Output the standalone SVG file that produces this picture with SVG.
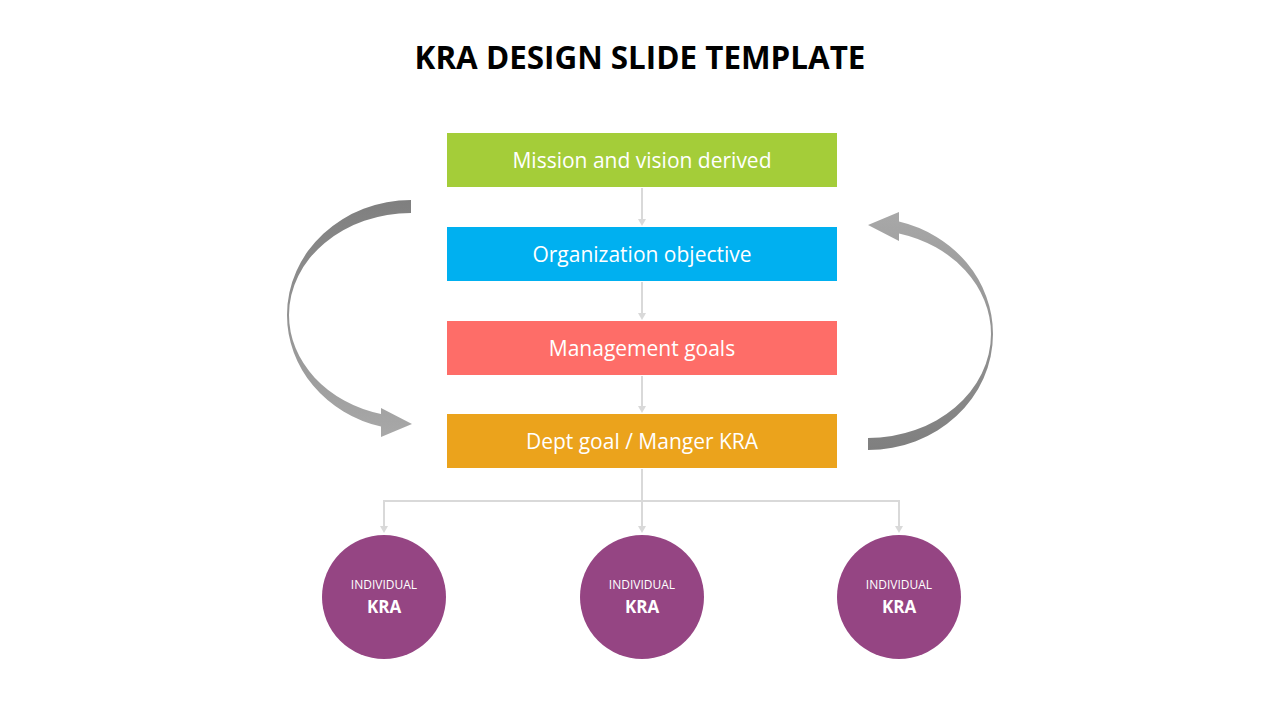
<svg xmlns="http://www.w3.org/2000/svg" width="1280" height="720" viewBox="0 0 1280 720">
<defs>
<linearGradient id="gl" x1="0" y1="0" x2="0" y2="1"><stop offset="0" stop-color="#7f7f7f"/><stop offset="1" stop-color="#a8a8a8"/></linearGradient>
<linearGradient id="gr" x1="0" y1="0" x2="0" y2="1"><stop offset="0" stop-color="#a8a8a8"/><stop offset="1" stop-color="#7f7f7f"/></linearGradient>
<style>
.box{stroke:none}
.bt{font-family:"Open Sans","Liberation Sans",sans-serif;font-size:21px;fill:#ffffff;text-anchor:middle}
.con{fill:none;stroke:#d9d9d9;stroke-width:2}
.ah{fill:#d9d9d9}
.c{fill:#954583}
.ct1{font-family:"Open Sans","Liberation Sans",sans-serif;font-size:12px;fill:#ffffff;text-anchor:middle}
.ct2{font-family:"Open Sans","Liberation Sans",sans-serif;font-size:17px;font-weight:bold;fill:#ffffff;text-anchor:middle}
</style>
</defs>
<rect width="1280" height="720" fill="#ffffff"/>
<text x="640" y="69" font-family="'Open Sans','Liberation Sans',sans-serif" font-size="31.4" font-weight="bold" fill="#000000" text-anchor="middle">KRA DESIGN SLIDE TEMPLATE</text>
<g id="connectors">
<line class="con" x1="642" y1="188" x2="642" y2="220"/>
<path class="ah" d="M638 219 L646 219 L642 226 Z"/>
<line class="con" x1="642" y1="282" x2="642" y2="314"/>
<path class="ah" d="M638 313 L646 313 L642 320 Z"/>
<line class="con" x1="642" y1="376" x2="642" y2="407"/>
<path class="ah" d="M638 406 L646 406 L642 413 Z"/>
<polyline class="con" points="642,469 642,527"/>
<polyline class="con" points="384,527 384,501 899,501 899,527"/>
<path class="ah" d="M380 526 L388 526 L384 533 Z"/>
<path class="ah" d="M638 526 L646 526 L642 533 Z"/>
<path class="ah" d="M895 526 L903 526 L899 533 Z"/>
</g>
<g id="cycle-left">
<path d="M411 200 A124 115 0 0 0 287 315 A124 115 0 0 0 381 426.6 L381 437 L412 424 L381 408 L381 413.9 A122 102 0 0 1 289 315 A122 102 0 0 1 411 213 Z" fill="url(#gl)"/>
</g>
<g id="cycle-right">
<path d="M868 450 A125 116 0 0 0 993 334 A125 116 0 0 0 899 221.6 L899 212 L868 225 L899 241 L899 233.4 A123 104 0 0 1 991 334 A123 104 0 0 1 868 438 Z" fill="url(#gr)"/>
</g>
<g id="n1"><rect class="box" x="447" y="133" width="390" height="54" fill="#a4cd39"/><text class="bt" x="642" y="168">Mission and vision derived</text></g>
<g id="n2"><rect class="box" x="447" y="227" width="390" height="54" fill="#00b0f0"/><text class="bt" x="642" y="262">Organization objective</text></g>
<g id="n3"><rect class="box" x="447" y="321" width="390" height="54" fill="#fe6d68"/><text class="bt" x="642" y="356">Management goals</text></g>
<g id="n4"><rect class="box" x="447" y="414" width="390" height="54" fill="#eba31c"/><text class="bt" x="642" y="449">Dept goal / Manger KRA</text></g>
<g id="c1"><circle class="c" cx="384" cy="597" r="62"/><text class="ct1" x="384" y="589">INDIVIDUAL</text><text class="ct2" x="384" y="613">KRA</text></g>
<g id="c2"><circle class="c" cx="642" cy="597" r="62"/><text class="ct1" x="642" y="589">INDIVIDUAL</text><text class="ct2" x="642" y="613">KRA</text></g>
<g id="c3"><circle class="c" cx="899" cy="597" r="62"/><text class="ct1" x="899" y="589">INDIVIDUAL</text><text class="ct2" x="899" y="613">KRA</text></g>
</svg>
